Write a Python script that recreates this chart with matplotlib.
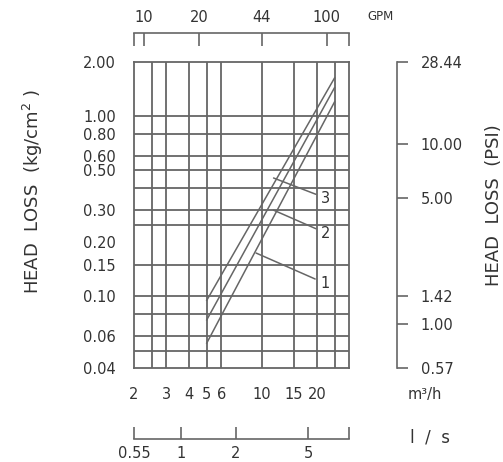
import matplotlib
matplotlib.use('Agg')
import matplotlib.pyplot as plt
from matplotlib.ticker import FixedLocator, FixedFormatter, NullLocator

# ---------------- data ----------------
flow_m3h = [5, 25]
loss_curve1 = [0.055, 1.20]
loss_curve2 = [0.074, 1.44]
loss_curve3 = [0.095, 1.63]
curve_names = ['1', '2', '3']

# label leader anchors (on curves) and label positions
label_anchor_flow = [9.3, 11.6, 11.6]
label_anchor_loss = [0.174, 0.301, 0.454]
label_text_flow = [22.2, 22.4, 22.4]
label_text_loss = [0.118, 0.2245, 0.351]

x_ticks_m3h = [2, 3, 4, 5, 6, 10, 15, 20]
y_ticks_kg = [2.00, 1.00, 0.80, 0.60, 0.50, 0.30, 0.20, 0.15, 0.10, 0.06, 0.04]
psi_ticks = [28.44, 10.00, 5.00, 1.42, 1.00, 0.57]
gpm_ticks = [10, 20, 44, 100]
ls_ticks = [0.55, 1, 2, 5]
grid_x = [2.5, 3, 4, 5, 6, 10, 15, 20, 25]
grid_y = [0.05, 0.06, 0.08, 0.10, 0.15, 0.25, 0.30, 0.40, 0.50, 0.60, 0.80, 1.00]

GPM_PER_M3H = 4.40287
PSI_PER_KG = 14.22
M3H_PER_LS = 3.6

# ---------------- style ----------------
LINE = '#666666'
TEXT = '#333333'
TICK_FS = 10.5
plt.rcParams['font.family'] = ['DejaVu Sans']

W, H = 503, 462
fig = plt.figure(figsize=(W / 100, H / 100), dpi=100)
ax = fig.add_axes([134 / W, 1 - 368 / H, 215 / W, 306 / H])
ax.set_xscale('log')
ax.set_yscale('log')
ax.set_xlim(2, 30)
ax.set_ylim(0.04, 2.0)

for s in ax.spines.values():
    s.set_color(LINE)
    s.set_linewidth(1.3)

for gx in grid_x:
    ax.axvline(gx, color=LINE, lw=1.3, zorder=1)
for gy in grid_y:
    ax.axhline(gy, color=LINE, lw=1.3, zorder=1)

ax.xaxis.set_major_locator(FixedLocator(x_ticks_m3h))
ax.xaxis.set_major_formatter(FixedFormatter([f'{v:g}' for v in x_ticks_m3h]))
ax.xaxis.set_minor_locator(NullLocator())
ax.yaxis.set_major_locator(FixedLocator(y_ticks_kg))
ax.yaxis.set_major_formatter(FixedFormatter([f'{v:.2f}' for v in y_ticks_kg]))
ax.yaxis.set_minor_locator(NullLocator())
ax.tick_params(axis='x', length=0, pad=14, labelsize=TICK_FS, labelcolor=TEXT)
ax.tick_params(axis='y', length=0, pad=13, labelsize=TICK_FS, labelcolor=TEXT)

for ys in (loss_curve1, loss_curve2, loss_curve3):
    ax.plot(flow_m3h, ys, color=LINE, lw=1.1, zorder=2)

for name, ax_f, ax_l, tx_f, tx_l in zip(curve_names, label_anchor_flow, label_anchor_loss,
                                        label_text_flow, label_text_loss):
    ax.annotate(name, xy=(ax_f, ax_l), xytext=(tx_f, tx_l), textcoords='data',
                ha='center', va='center', fontsize=TICK_FS, color=TEXT,
                arrowprops=dict(arrowstyle='-', color=LINE, lw=1.1, shrinkA=2, shrinkB=0))

# top GPM axis
xlo, xhi = ax.get_xlim()
top = ax.secondary_xaxis(1 + 29 / 306, functions=(lambda x: x * GPM_PER_M3H,
                                                    lambda g: g / GPM_PER_M3H))
top_ticks = [xlo * GPM_PER_M3H] + gpm_ticks + [xhi * GPM_PER_M3H]
top.xaxis.set_major_locator(FixedLocator(top_ticks))
top.xaxis.set_major_formatter(FixedFormatter([''] + [str(v) for v in gpm_ticks] + ['']))
top.xaxis.set_minor_locator(NullLocator())
top.tick_params(axis='x', direction='in', length=9, width=1.2, color=LINE,
                labelsize=TICK_FS, labelcolor=TEXT, pad=6)
for s in top.spines.values():
    s.set_color(LINE)
    s.set_linewidth(1.2)

# bottom l/s axis (first tick sits at the left end of the flow range)
bot = ax.secondary_xaxis(-71 / 306, functions=(lambda x: x / M3H_PER_LS,
                                                 lambda q: q * M3H_PER_LS))
bot_ticks = [max(v, xlo / M3H_PER_LS) for v in ls_ticks] + [xhi / M3H_PER_LS]
bot.xaxis.set_major_locator(FixedLocator(bot_ticks))
bot.xaxis.set_major_formatter(FixedFormatter([f'{v:g}' for v in ls_ticks] + ['']))
bot.xaxis.set_minor_locator(NullLocator())
bot.tick_params(axis='x', direction='in', length=9, width=1.2, color=LINE,
                labelsize=TICK_FS, labelcolor=TEXT, pad=5)
for s in bot.spines.values():
    s.set_color(LINE)
    s.set_linewidth(1.2)

# right PSI axis
rgt = ax.secondary_yaxis(1 + 48 / 215, functions=(lambda k: k * PSI_PER_KG,
                                                   lambda p: p / PSI_PER_KG))
rgt.yaxis.set_major_locator(FixedLocator(psi_ticks))
rgt.yaxis.set_major_formatter(FixedFormatter([f'{v:.2f}' for v in psi_ticks]))
rgt.yaxis.set_minor_locator(NullLocator())
rgt.tick_params(axis='y', direction='out', length=8, width=1.2, color=LINE,
                labelsize=TICK_FS, labelcolor=TEXT, pad=9)
for s in rgt.spines.values():
    s.set_color(LINE)
    s.set_linewidth(1.2)

# texts
fig.text(33 / W, 1 - 191 / H, 'HEAD  LOSS  (kg/cm$^2$ )', rotation=90,
         ha='center', va='center', fontsize=13, color=TEXT)
fig.text(494 / W, 1 - 205 / H, 'HEAD  LOSS  (PSI)', rotation=90,
         ha='center', va='center', fontsize=13, color=TEXT)
fig.text(381 / W, 1 - 17 / H, 'GPM', ha='center', va='center', fontsize=8.5, color=TEXT)
fig.text(425 / W, 1 - 395 / H, 'm³/h', ha='center', va='center', fontsize=10.5, color=TEXT)
fig.text(430 / W, 1 - 437 / H, 'l  /  s', ha='center', va='center', fontsize=12, color=TEXT)

fig.savefig('out.png', dpi=100)
